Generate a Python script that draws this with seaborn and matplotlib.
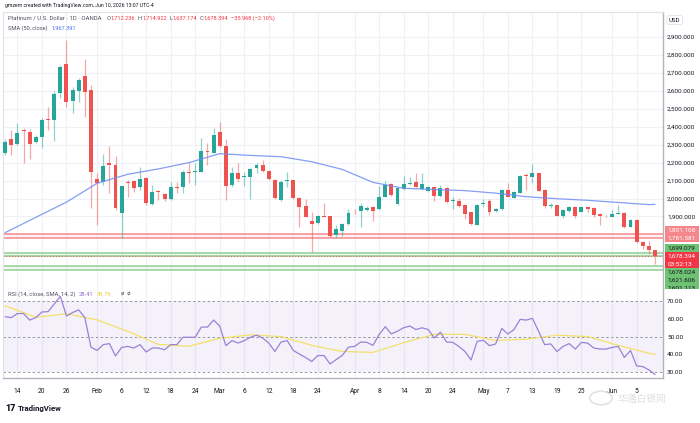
import numpy as np
import pandas as pd
import matplotlib
matplotlib.use("Agg")
import matplotlib.pyplot as plt
from matplotlib.patches import Rectangle, Circle
import seaborn as sns

# XPT/USD daily candles (OANDA)
opens = [2256, 2330, 2302, 2380, 2373, 2313, 2345, 2445, 2438, 2590,
         2748, 2543, 2601, 2685, 2605, 2107, 2094, 2196, 2189, 1921,
         2094, 2100, 2062, 2116, 1968, 2042, 2025, 1996, 2066, 2062,
         2148, 2146, 2146, 2265, 2256, 2369, 2293, 2076, 2144, 2121,
         2118, 2168, 2187, 2153, 2103, 1992, 2098, 2103, 2005, 1958,
         1877, 1862, 1903, 1903, 1797, 1819, 1856, 1933, 1931, 1936,
         1955, 1940, 2010, 2079, 1970, 2051, 2081, 2094, 2051, 2044,
         2062, 2014, 2061, 1988, 1986, 1964, 1925, 1853, 1971, 1986,
         1933, 1942, 2048, 2001, 2033, 2130, 2122, 2141, 2048, 1959,
         1964, 1905, 1933, 1955, 1927, 1955, 1946, 1912, 1905, 1899,
         1916, 1921, 1843, 1881, 1756, 1738, 1712.236]
highs = [2330, 2382, 2419, 2391, 2386, 2354, 2447, 2512, 2599, 2744,
         2883, 2623, 2673, 2776, 2633, 2140, 2246, 2293, 2237, 2072,
         2103, 2105, 2174, 2118, 2076, 2048, 2030, 2094, 2094, 2159,
         2196, 2196, 2335, 2308, 2395, 2425, 2330, 2178, 2200, 2150,
         2168, 2196, 2215, 2159, 2109, 2103, 2150, 2105, 2011, 1996,
         1923, 1908, 1973, 1905, 1853, 1862, 1942, 1940, 1973, 1958,
         1958, 2070, 2098, 2085, 2063, 2126, 2122, 2140, 2140, 2070,
         2066, 2076, 2066, 2011, 2001, 1966, 1927, 1970, 1996, 1996,
         1946, 2051, 2089, 2044, 2131, 2141, 2193, 2144, 2051, 1973,
         1966, 1942, 1959, 1959, 1959, 1959, 1951, 1918, 1908, 1936,
         1964, 1927, 1884, 1884, 1765, 1764, 1714.922]
lows = [2240, 2243, 2298, 2200, 2218, 2308, 2280, 2382, 2322, 2562,
        2508, 2478, 2540, 2456, 1949, 1853, 2076, 2029, 1936, 1778,
        2010, 2035, 2048, 1964, 1964, 1992, 1988, 1992, 2029, 2033,
        2085, 2076, 2146, 2187, 2252, 2289, 1992, 2066, 2094, 2070,
        1997, 2140, 2146, 2103, 1997, 1986, 2066, 1997, 1843, 1895,
        1700, 1858, 1897, 1788, 1778, 1791, 1853, 1914, 1843, 1930,
        1877, 1936, 2007, 2016, 1964, 2048, 2075, 2057, 2048, 2038,
        1988, 2011, 1977, 1942, 1955, 1884, 1853, 1851, 1951, 1908,
        1927, 1936, 2007, 2001, 2029, 2048, 2085, 2042, 1949, 1946,
        1903, 1890, 1927, 1894, 1923, 1927, 1895, 1853, 1899, 1895,
        1912, 1838, 1840, 1751, 1719, 1690, 1637.174]
closes = [2317, 2298, 2363, 2376, 2302, 2345, 2438, 2438, 2582, 2735,
          2536, 2605, 2660, 2595, 2150, 2085, 2181, 2187, 1946, 2070,
          2085, 2057, 2109, 1973, 2038, 2035, 1996, 2062, 2060, 2146,
          2142, 2152, 2267, 2261, 2354, 2293, 2070, 2144, 2107, 2124,
          2163, 2187, 2153, 2109, 2001, 2094, 2104, 2001, 1951, 1899,
          1858, 1903, 1899, 1791, 1828, 1856, 1921, 1929, 1958, 1949,
          1931, 2010, 2075, 2020, 2057, 2079, 2088, 2062, 2081, 2066,
          2014, 2057, 1983, 1992, 1960, 1914, 1856, 1964, 1975, 1927,
          1942, 2048, 2011, 2038, 2126, 2126, 2141, 2044, 1959, 1964,
          1905, 1936, 1955, 1903, 1955, 1942, 1908, 1903, 1901, 1914,
          1921, 1840, 1881, 1756, 1738, 1714.362, 1678.394]

# RSI(14) per bar
rsi = [61.3, 60.8, 63.1, 63.1, 59.4, 60.8, 64.0, 64.2, 68.5, 72.9,
       61.7, 63.7, 65.2, 60.8, 44.0, 42.1, 45.4, 46.0, 39.0, 43.8,
       44.4, 43.5, 45.4, 41.2, 43.5, 43.5, 42.5, 45.4, 45.4, 49.6,
       49.6, 49.6, 55.4, 55.4, 59.4, 56.0, 44.8, 47.7, 46.3, 47.7,
       49.6, 50.8, 49.2, 46.3, 41.5, 46.9, 47.7, 42.1, 40.0, 38.1,
       35.8, 39.2, 39.2, 34.4, 36.9, 39.3, 44.0, 44.4, 46.9, 46.7,
       45.0, 51.2, 55.6, 51.5, 53.1, 55.0, 56.0, 54.0, 55.0, 54.0,
       49.2, 52.5, 46.9, 46.7, 44.4, 41.5, 36.7, 47.3, 47.9, 44.8,
       45.8, 54.6, 51.5, 54.0, 59.8, 59.4, 60.4, 53.1, 45.4, 45.8,
       41.5, 44.4, 46.0, 42.9, 46.7, 46.3, 43.5, 42.9, 42.9, 43.8,
       44.4, 38.1, 42.1, 33.3, 32.9, 31.0, 28.41]

# smooth lines, read every 5th bar
line_bar = [0, 5, 10, 15, 20, 25, 30, 35, 40, 45, 50, 55, 60, 65, 70,
            75, 80, 85, 90, 95, 100, 105, 106]
sma_50 = [1810, 1895, 1980, 2085, 2135, 2165, 2200, 2250, 2240, 2233,
          2205, 2162, 2090, 2057, 2050, 2044, 2030, 2010, 1999, 1990,
          1978, 1966, 1967.391]
rsi_sma = [67.5, 61.0, 63.0, 59.5, 53.0, 45.5, 44.5, 49.0, 51.0, 50.0,
           45.0, 41.5, 41.0, 46.5, 51.3, 51.3, 47.8, 48.5, 50.8, 50.0,
           45.0, 40.5, 39.79]

tick_days = ["2026-01-14", "2026-01-20", "2026-01-26", "2026-02-02", "2026-02-06",
             "2026-02-12", "2026-02-18", "2026-02-24", "2026-03-02", "2026-03-06",
             "2026-03-12", "2026-03-18", "2026-03-24", "2026-04-01", "2026-04-08",
             "2026-04-14", "2026-04-20", "2026-04-24", "2026-05-01", "2026-05-07",
             "2026-05-13", "2026-05-19", "2026-05-25", "2026-06-01", "2026-06-05"]
tick_names = ["14", "20", "26", "Feb", "6", "12", "18", "24", "Mar", "6", "12", "18",
              "24", "Apr", "8", "14", "20", "24", "May", "7", "13", "19", "25", "Jun", "5"]

red_zone = (1781.581, 1801.108)
green_zones = [(1678.024, 1699.079), (1601.113, 1621.606)]
countdown = "03:52:13"

GREEN = "#26a69a"
RED = "#ef5350"
TXT = "#131722"
GREY = "#50535e"
GRID = "#eef1f6"

dates = pd.bdate_range("2026-01-12", "2026-06-10", freq="C", holidays=["2026-04-03"])
o = np.array(opens, float)
h = np.array(highs, float)
l = np.array(lows, float)
c = np.array(closes, float)
x = np.arange(len(c))
tick_pos = dates.searchsorted(pd.to_datetime(tick_days))

sns.set_theme(style="white")
plt.rcParams['font.family'] = ['Roboto', 'Noto Sans CJK SC', 'DejaVu Sans']

W, H = 700, 423
fig = plt.figure(figsize=(W / 100, H / 100), dpi=100)
fig.patch.set_facecolor("white")


def box(x0, y0, x1, y1):
    return [x0 / W, 1 - y1 / H, (x1 - x0) / W, (y1 - y0) / H]


ax = fig.add_axes(box(3, 12, 663, 289))
ax2 = fig.add_axes(box(3, 289, 663, 378), sharex=ax)

# ---- price panel
cols = np.where(c >= o, GREEN, RED)
ax.vlines(x, l, h, colors=cols, linewidth=0.9, alpha=0.5, zorder=3)
body = np.maximum(np.abs(c - o), 4)
ax.bar(x, body, bottom=np.minimum(o, c), width=0.64, color=cols, linewidth=0, zorder=4)
sns.lineplot(x=line_bar, y=sma_50, ax=ax, color="#6f8df5", linewidth=0.9,
             alpha=0.85, estimator=None, legend=False, zorder=5)

ax.axhspan(*red_zone, color="#f7525f", alpha=0.07, lw=0)
for v in red_zone:
    ax.axhline(v, color="#f48a8e", lw=1.1, zorder=2)
for z in green_zones:
    ax.axhspan(*z, color="#4caf50", alpha=0.07, lw=0)
    for v in z:
        ax.axhline(v, color="#97d39a", lw=1.2, zorder=2)
ax.axhline(c[-1], color=RED, lw=0.7, ls=(0, (1, 2)), zorder=2)

ymin, ymax = 1496, 3039
ax.set_ylim(ymin, ymax)
ax.set_xlim(-0.35, len(c) - 1 + 1.3)
ax.yaxis.tick_right()
ax.set_yticks(np.arange(1900, 2901, 100))
ax.set_yticklabels([f"{v:,.3f}" for v in np.arange(1900, 2901, 100)])
ax.tick_params(axis="y", length=0, pad=3, labelsize=4.6, labelcolor=TXT)
ax.tick_params(axis="x", length=0, labelbottom=False)
ax.set_xticks(tick_pos)
ax.grid(True, color=GRID, lw=0.8)
ax.set_axisbelow(True)
for s in ["top", "left", "bottom"]:
    ax.spines[s].set_color("#e0e3eb")
    ax.spines[s].set_linewidth(0.8)
ax.spines["right"].set_color("#b2b5be")
ax.spines["right"].set_linewidth(1)

# ---- RSI panel
ax2.axhspan(30, 70, color="#7e57c2", alpha=0.08, lw=0)
for v in (70, 50, 30):
    ax2.axhline(v, color="#9598a1", lw=0.7, ls=(0, (2.5, 2.5)))
sns.lineplot(x=line_bar, y=rsi_sma, ax=ax2, color="#f5e06a", linewidth=0.9,
             estimator=None, legend=False)
sns.lineplot(x=x, y=rsi, ax=ax2, color="#9a82d6", linewidth=0.9,
             estimator=None, legend=False)
ax2.set_ylim(26.4, 77.1)
ax2.yaxis.tick_right()
ax2.set_yticks([30, 40, 50, 60, 70])
ax2.set_yticklabels([f"{v:.2f}" for v in [30, 40, 50, 60, 70]])
ax2.tick_params(axis="y", length=0, pad=3, labelsize=4.6, labelcolor=TXT)
ax2.set_xticks(tick_pos)
ax2.set_xticklabels(tick_names)
ax2.tick_params(axis="x", length=0, pad=7, labelsize=4.8, labelcolor=TXT)
ax2.grid(True, axis="x", color=GRID, lw=0.8)
ax2.set_axisbelow(True)
for a in (ax, ax2):
    a.set_xlabel("")
    a.set_ylabel("")
ax2.spines["top"].set_visible(False)
ax2.spines["left"].set_color("#e0e3eb")
ax2.spines["left"].set_linewidth(0.8)
for s in ["right", "bottom"]:
    ax2.spines[s].set_color("#b2b5be")
    ax2.spines[s].set_linewidth(1)

# ---- price labels on the scale
axr = fig.add_axes(box(664, 12, 700, 289))
axr.set_ylim(ymin, ymax)
axr.set_xlim(0, 1)
axr.axis("off")
axr.patch.set_visible(False)
lab_h = 8 / (277 / (ymax - ymin))

tags = []  # (center, value, bg, fg, lines)
cur = c[-1]
tags.append((cur, cur, "#f23645", "white", 2))
prev_top = cur + lab_h / 2
for v in sorted([green_zones[0][1], red_zone[0], red_zone[1]]):
    bg = "#f5878c" if v in red_zone else "#6fc273"
    fg = "white" if v in red_zone else TXT
    ctr = max(v, prev_top + lab_h / 2)
    prev_top = ctr + lab_h / 2
    tags.append((ctr, v, bg, fg, 1))
prev_bot = cur - 1.5 * lab_h
for v in sorted([green_zones[0][0], green_zones[1][1], green_zones[1][0]], reverse=True):
    ctr = min(v, prev_bot - lab_h / 2)
    prev_bot = ctr - lab_h / 2
    tags.append((ctr, v, "#6fc273", TXT, 1))

for ctr, v, bg, fg, n in tags:
    axr.add_patch(Rectangle((0.02, ctr + lab_h / 2 - n * lab_h), 0.94, n * lab_h,
                            facecolor=bg, edgecolor="none", clip_on=True))
    axr.text(0.09, ctr, f"{v:,.3f}", color=fg, fontsize=4.6, va="center", ha="left",
             clip_on=True)
    if n == 2:
        axr.text(0.09, ctr - lab_h, countdown, color=fg, fontsize=4.6, va="center",
                 ha="left", clip_on=True)

# ---- header texts
rend = fig.canvas.get_renderer()


def chain(parts, x0, y0, size):
    xx = x0
    for s, col, gap in parts:
        t = fig.text(xx / W, 1 - y0 / H, s, color=col, fontsize=size, va="center", ha="left")
        xx = t.get_window_extent(renderer=rend).x1 + gap
    return xx


chg = c[-1] - c[-2]
pct = chg / c[-2] * 100
sign = "−" if chg < 0 else "+"
vcol = "#f23645" if chg < 0 else GREEN
x_end = chain([("Platinum / U.S. Dollar · 1D · OANDA", GREY, 0)], 8, 18, 4.3)
chain([("O", GREY, 0.3), (f"{o[-1]:,.3f}", vcol, 2.5),
       ("H", GREY, 0.3), (f"{h[-1]:,.3f}", vcol, 2.5),
       ("L", GREY, 0.3), (f"{l[-1]:,.3f}", vcol, 2.5),
       ("C", GREY, 0.3), (f"{c[-1]:,.3f}", vcol, 3),
       (f"{sign}{abs(chg):,.3f} ({sign}{abs(pct):.2f}%)", vcol, 0)],
      max(x_end + 5, 100), 18, 4.1)
chain([("SMA (50, close)", GREY, 4), (f"{sma_50[-1]:,.3f}", "#4a6cf7", 0)], 8, 28, 4.1)
chain([("RSI (14, close, SMA, 14, 2)", GREY, 3.5), (f"{rsi[-1]:.2f}", "#8e6fd0", 3),
       (f"{rsi_sma[-1]:.2f}", "#e8cf3a", 10), ("ø  ø", GREY, 0)], 8, 294.5, 4.2)

fig.text(5 / W, 1 - 5.5 / H, "gmzern created with TradingView.com, Jun 10, 2026 13:07 UTC-4",
         fontsize=3.7, color=TXT, va="center", ha="left")
fig.text(669 / W, 1 - 20 / H, "USD", fontsize=4.4, color=TXT, va="center", ha="left",
         bbox=dict(boxstyle="round,pad=0.35", fc="white", ec="#e0e3eb", lw=0.6))

fig.text(5 / W, 1 - 408 / H, "17", fontsize=6.5, fontweight="heavy", color=TXT,
         va="center", ha="left")
fig.text(18 / W, 1 - 408 / H, "TradingView", fontsize=5.6, fontweight="bold", color=TXT,
         va="center", ha="left")

# faint site watermark
fig.patches.append(Circle((601 / W, 1 - 398 / H), 0.016, transform=fig.transFigure,
                          fill=False, ec="#d4d6db", lw=1.2, alpha=0.7))
fig.text(618 / W, 1 - 399 / H, "华通白银网", fontsize=7, color="#d0d2d8", alpha=0.7,
         va="center", ha="left")

fig.savefig("out.png", dpi=100)
